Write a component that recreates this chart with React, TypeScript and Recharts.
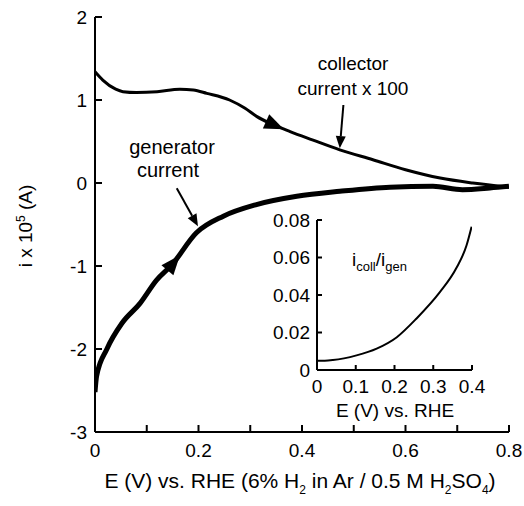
import React from 'react';
import { ComposedChart, LineChart, Line, XAxis, YAxis, ReferenceDot, ReferenceLine } from 'recharts';

// main plot: collector current x 100 (upper trace)
const collectorE = [0, 0.015, 0.04, 0.054, 0.08, 0.12, 0.164, 0.19, 0.216, 0.26, 0.29, 0.313, 0.342, 0.377, 0.42, 0.473, 0.537, 0.6, 0.667, 0.73, 0.8];
const collectorI = [1.34, 1.24, 1.13, 1.1, 1.09, 1.1, 1.13, 1.12, 1.08, 1.0, 0.9, 0.8, 0.71, 0.62, 0.52, 0.4, 0.28, 0.16, 0.06, 0.0, -0.05];

// main plot: generator current (lower trace)
const generatorE = [0, 0.003, 0.023, 0.052, 0.087, 0.119, 0.148, 0.196, 0.248, 0.312, 0.39, 0.473, 0.57, 0.653, 0.71, 0.763, 0.8];
const generatorI = [-2.52, -2.33, -2.0, -1.69, -1.45, -1.17, -0.99, -0.6, -0.4, -0.26, -0.16, -0.1, -0.05, -0.04, -0.08, -0.06, -0.04];

// inset: i_coll / i_gen
const ratioE = [0, 0.02, 0.041, 0.102, 0.154, 0.206, 0.257, 0.317, 0.36, 0.386, 0.399];
const ratioV = [0.005, 0.005, 0.0053, 0.0078, 0.0114, 0.0175, 0.0275, 0.0415, 0.0545, 0.0665, 0.0764];

const mainXTicks = [0, 0.1, 0.2, 0.3, 0.4, 0.5, 0.6, 0.7, 0.8];
const mainXLabels = ['0', '', '0.2', '', '0.4', '', '0.6', '', '0.8'];
const mainYTicks = [-3, -2, -1, 0, 1, 2];
const insetXTicks = [0, 0.05, 0.1, 0.15, 0.2, 0.25, 0.3, 0.35, 0.4];
const insetXLabels = ['0', '', '0.1', '', '0.2', '', '0.3', '', '0.4'];
const insetYTicks = [0, 0.01, 0.02, 0.03, 0.04, 0.05, 0.06, 0.07, 0.08];
const insetYLabels = ['0', '', '0.02', '', '0.04', '', '0.06', '', '0.08'];

const collectorData = collectorE.map((e, k) => ({ e, i: collectorI[k] }));
const generatorData = generatorE.map((e, k) => ({ e, i: generatorI[k] }));
const ratioData = ratioE.map((e, k) => ({ e, v: ratioV[k] }));

const FONT = '"Liberation Sans", Arial, sans-serif';
const AX = { stroke: '#000', strokeWidth: 2 };

const labelTick = (labels: string[], ticks: number[], anchor: 'middle' | 'end') => (p: any) => {
    const idx = ticks.findIndex((t) => Math.abs(t - p.payload.value) < 1e-9);
    const txt = idx >= 0 ? labels[idx] : '';
    return (
        <text x={p.x} y={p.y} dy="0.35em" textAnchor={anchor} fontFamily={FONT} fontSize={19} fill="#000">
            {txt}
        </text>
    );
};

const triangle = (angle: number, size: number) => (p: any) => {
    const a = (angle * Math.PI) / 180;
    const c = Math.cos(a), s = Math.sin(a);
    const tip = [p.cx + size * c, p.cy + size * s];
    const bx = p.cx - size * 0.5 * c, by = p.cy - size * 0.5 * s;
    const w = size * 0.6;
    const pts = [tip, [bx - w * s, by + w * c], [bx + w * s, by - w * c]];
    return <polygon points={pts.map((q) => q.join(',')).join(' ')} fill="#000" />;
};

const arrowShape = (p: any) => {
    const { x1, y1, x2, y2 } = p;
    const ang = Math.atan2(y2 - y1, x2 - x1);
    const c = Math.cos(ang), s = Math.sin(ang);
    const hl = 12, hw = 5;
    const bx = x2 - hl * c, by = y2 - hl * s;
    const pts = [[x2, y2], [bx - hw * s, by + hw * c], [bx + hw * s, by - hw * c]];
    return (
        <g>
            <line x1={x1} y1={y1} x2={bx} y2={by} stroke="#000" strokeWidth={2} />
            <polygon points={pts.map((q) => q.join(',')).join(' ')} fill="#000" />
        </g>
    );
};

const txt: React.CSSProperties = {
    position: 'absolute',
    fontFamily: FONT,
    fontSize: 19,
    color: '#000',
    whiteSpace: 'nowrap',
    lineHeight: 1,
    transform: 'translate(-50%, -50%)',
};

export default function App() {
    return (
        <div style={{ position: 'absolute', left: 0, top: 0, width: 524, height: 506, background: '#fff', overflow: 'hidden' }}>
            <ComposedChart width={524} height={506} margin={{ top: 17, right: 15, bottom: 0, left: 0 }}>
                <XAxis
                    type="number"
                    dataKey="e"
                    domain={[0, 0.8]}
                    ticks={mainXTicks}
                    height={74}
                    axisLine={AX}
                    tickLine={AX}
                    tickSize={-7}
                    tickMargin={25}
                    tick={labelTick(mainXLabels, mainXTicks, 'middle')}
                    allowDataOverflow
                />
                <XAxis xAxisId="top" type="number" orientation="top" domain={[0, 0.8]} ticks={mainXTicks} height={0} axisLine={AX} tickLine={AX} tickSize={-7} tick={false} allowDataOverflow />
                <YAxis
                    type="number"
                    dataKey="i"
                    domain={[-3, 2]}
                    ticks={mainYTicks}
                    width={95}
                    axisLine={AX}
                    tickLine={AX}
                    tickSize={-7}
                    tickMargin={15}
                    tick={labelTick(mainYTicks.map(String), mainYTicks, 'end')}
                    allowDataOverflow
                />
                <YAxis yAxisId="right" type="number" orientation="right" domain={[-3, 2]} ticks={mainYTicks} width={0} axisLine={AX} tickLine={AX} tickSize={-7} tick={false} allowDataOverflow />
                <Line data={collectorData} dataKey="i" type="monotone" stroke="#000" strokeWidth={3} dot={false} isAnimationActive={false} />
                <Line data={generatorData} dataKey="i" type="monotone" stroke="#000" strokeWidth={5} dot={false} isAnimationActive={false} />
                <ReferenceDot x={0.342} y={0.71} r={6} shape={triangle(24, 13)} ifOverflow="visible" />
                <ReferenceDot x={0.148} y={-0.99} r={6} shape={triangle(-50, 13)} ifOverflow="visible" />
                <ReferenceLine segment={[{ x: 0.158, y: -0.064 }, { x: 0.199, y: -0.52 }]} shape={arrowShape} ifOverflow="visible" />
                <ReferenceLine segment={[{ x: 0.48, y: 0.94 }, { x: 0.473, y: 0.42 }]} shape={arrowShape} ifOverflow="visible" />
            </ComposedChart>

            <div style={{ position: 'absolute', left: 262, top: 205 }}>
                <LineChart width={250} height={220} margin={{ top: 15, right: 40, bottom: 0, left: 0 }}>
                    <XAxis
                        type="number"
                        dataKey="e"
                        domain={[0, 0.4]}
                        ticks={insetXTicks}
                        height={55}
                        axisLine={AX}
                        tickLine={AX}
                        tickSize={-5}
                        tickMargin={21}
                        tick={labelTick(insetXLabels, insetXTicks, 'middle')}
                        allowDataOverflow
                    />
                    <XAxis xAxisId="top" type="number" orientation="top" domain={[0, 0.4]} ticks={insetXTicks} height={0} axisLine={AX} tickLine={AX} tickSize={-5} tick={false} allowDataOverflow />
                    <YAxis
                        type="number"
                        dataKey="v"
                        domain={[0, 0.08]}
                        ticks={insetYTicks}
                        width={55}
                        axisLine={AX}
                        tickLine={AX}
                        tickSize={-5}
                        tickMargin={12}
                        tick={labelTick(insetYLabels, insetYTicks, 'end')}
                        allowDataOverflow
                    />
                    <YAxis yAxisId="right" type="number" orientation="right" domain={[0, 0.08]} ticks={insetYTicks} width={0} axisLine={AX} tickLine={AX} tickSize={-5} tick={false} allowDataOverflow />
                    <Line data={ratioData} dataKey="v" type="monotone" stroke="#000" strokeWidth={2} dot={false} isAnimationActive={false} />
                </LineChart>
            </div>

            <div style={{ ...txt, left: 353, top: 63 }}>collector</div>
            <div style={{ ...txt, left: 353, top: 88 }}>current x 100</div>
            <div style={{ ...txt, left: 172, top: 147, fontSize: 20 }}>generator</div>
            <div style={{ ...txt, left: 168, top: 170, fontSize: 20 }}>current</div>

            <div style={{ ...txt, left: 352, top: 250, transform: 'none' }}>
                i<sub style={{ fontSize: 13 }}>coll</sub>/i<sub style={{ fontSize: 13 }}>gen</sub>
            </div>
            <div style={{ ...txt, left: 395, top: 410 }}>E (V) vs. RHE</div>

            <div style={{ ...txt, left: 300, top: 483, fontSize: 21 }}>
                E (V) vs. RHE (6% H<sub style={{ fontSize: 12 }}>2</sub> in Ar / 0.5 M H<sub style={{ fontSize: 12 }}>2</sub>SO<sub style={{ fontSize: 12 }}>4</sub>)
            </div>
            <div style={{ ...txt, left: 25, top: 226, transform: 'translate(-50%, -50%) rotate(-90deg)' }}>
                i x 10<sup style={{ fontSize: 12 }}>5</sup> (A)
            </div>
        </div>
    );
}
